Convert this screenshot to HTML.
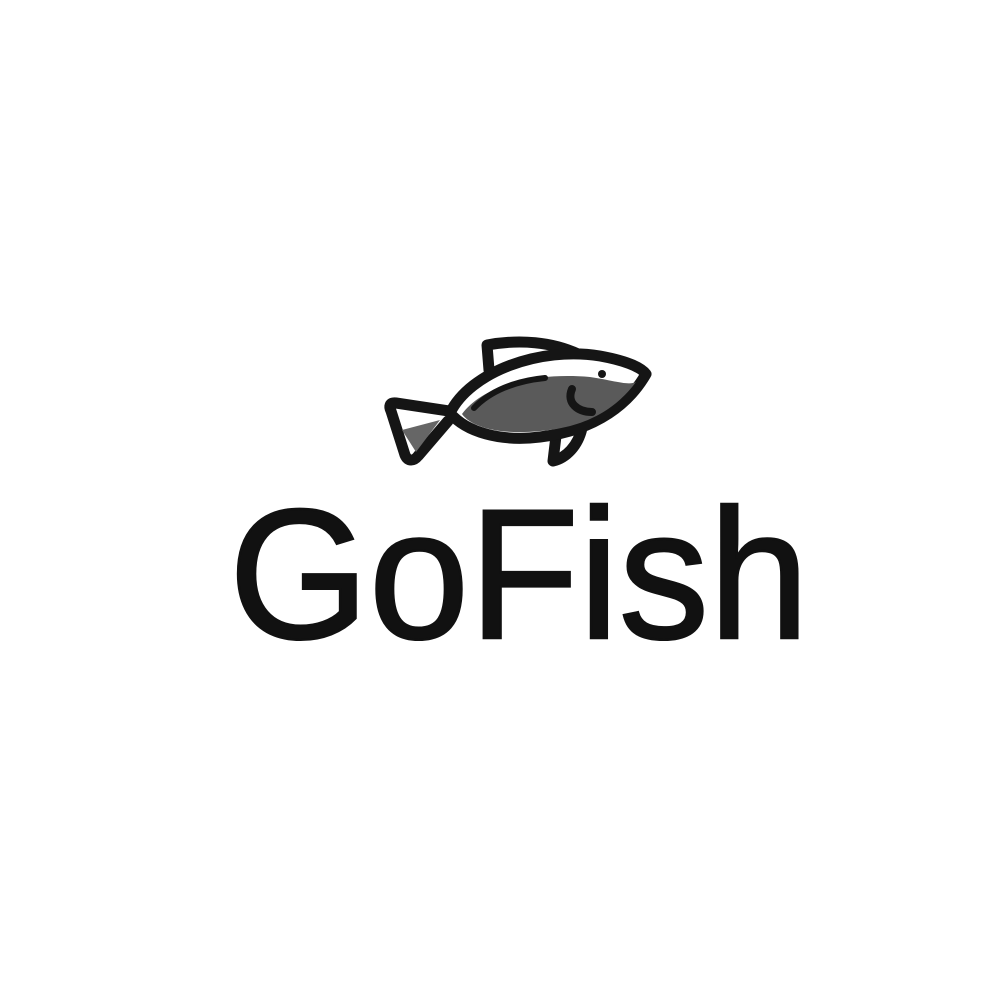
<!DOCTYPE html>
<html><head><meta charset="utf-8"><style>html,body{margin:0;padding:0;background:#fff}svg{display:block}</style></head>
<body>
<svg width="1000" height="1000" viewBox="0 0 1000 1000" xmlns="http://www.w3.org/2000/svg">
<rect width="1000" height="1000" fill="#fff"/>
<g stroke="#151515" stroke-width="11" stroke-linejoin="round" stroke-linecap="round">
<path d="M489,370 L487,345 C520,339 552,342 578,354" fill="#fff"/>
<path d="M449,411 L396,403 C389,402 389,407 391,411 L405,455 C408,462 414,461 418,456 L448,421" fill="#fff"/>
<path d="M402,430 L440,420 L416,452Z" fill="#666" stroke="none"/>
<path d="M556,436 L553,461 C566,458 578,446 582,428" fill="#fff"/>
<path d="M450,413 C470,372 540,346 600,356 C622,360 640,366 646,374 C630,402 598,430 540,437 C500,442 466,432 450,413 Z" fill="#fff"/>
<path d="M462,414 C482,387 530,372 590,377 C612,380 628,386 636,382 C618,406 590,427 540,431 C502,435 472,428 462,414 Z" fill="#5a5a5a" stroke="none"/>
<path d="M474,408 C490,391 515,381 545,378" fill="none" stroke-width="6"/>
<path d="M572,389 C566,403 578,412 592,412" fill="none" stroke-width="8"/>
<circle cx="602" cy="374" r="4" fill="#151515" stroke="none"/>
</g>
<text x="229" y="638" font-family="Liberation Sans, sans-serif" font-size="185" fill="#111" stroke="#111" stroke-width="2.5" textLength="580" lengthAdjust="spacingAndGlyphs">GoFish</text>
</svg>
</body></html>
